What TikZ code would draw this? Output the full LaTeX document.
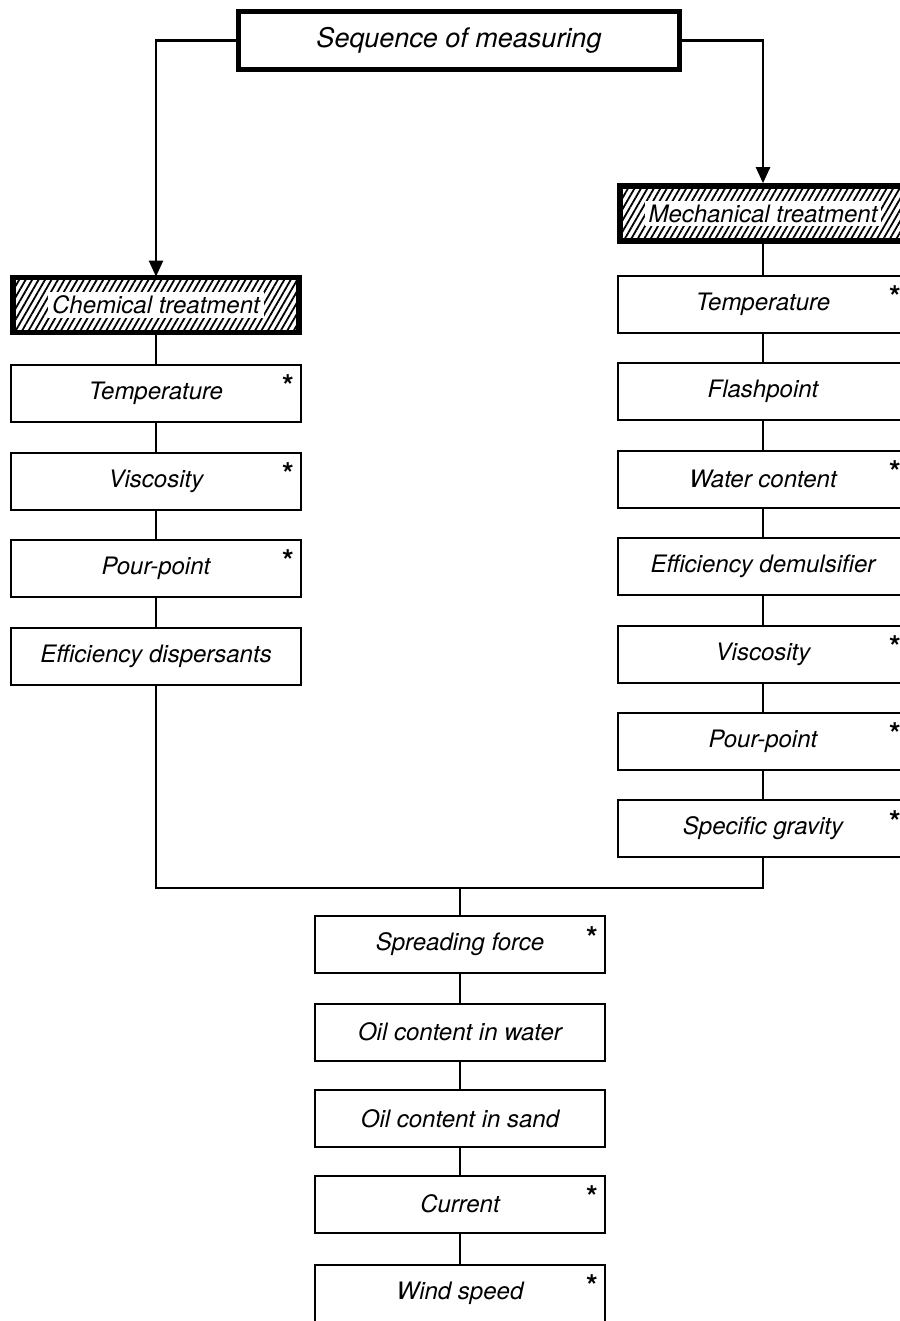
\documentclass[tikz,border=0pt]{standalone}
\usepackage{fontspec}
\setmainfont{TeX Gyre Heros}
\usetikzlibrary{arrows.meta,patterns.meta}

\tikzset{
  cell/.style={draw, line width=1pt, minimum width=145pt, minimum height=28.5pt,
    inner sep=0pt, font=\itshape\fontsize{12}{14}\selectfont},
  headbox/.style={draw, line width=2.6pt, minimum width=220.5pt, minimum height=29pt,
    inner sep=0pt, font=\itshape\fontsize{13.5}{16}\selectfont},
  treatment/.style={draw, line width=2.8pt, minimum width=143pt, minimum height=27.5pt,
    inner sep=0pt, pattern={Lines[angle=60,distance=2.8pt,line width=0.9pt]},
    font=\itshape\fontsize{12}{14}\selectfont},
  starred/.style={label={[anchor=base, inner sep=0pt, xshift=-7pt, yshift=-16.5pt,
    font=\bfseries\fontsize{15}{16}\selectfont]north east:*}},
  link/.style={line width=1.2pt},
  feed/.style={link, -{Triangle[length=8pt,width=7pt]}},
}

\begin{document}
\begin{tikzpicture}[x=0.5pt,y=-0.5pt]
  \useasboundingbox (0,0) rectangle (899,1321);
  \setlength{\fboxsep}{2pt}

  % Cabecera
  \node[headbox] (seq) at (459,40.5) {Sequence of measuring};

  % Tratamientos
  \node[treatment] (chem) at (156,305) {\colorbox{white}{Chemical treatment}};
  \node[treatment] (mech) at (763,213.5) {\colorbox{white}{Mechanical treatment}};

  % Columna izquierda
  \node[cell,starred] (ctemp) at (156,393) {Temperature};
  \node[cell,starred] (cvisc) at (156,481) {Viscosity};
  \node[cell,starred] (cpour) at (156,568) {Pour-point};
  \node[cell] (cdisp) at (156,656.5) {Efficiency dispersants};

  % Columna derecha
  \node[cell,starred] (mtemp) at (763,304) {Temperature};
  \node[cell] (mflash) at (763,391) {Flashpoint};
  \node[cell,starred] (mwater) at (763,479) {Water content};
  \node[cell] (mdemul) at (763,566.5) {Efficiency demulsifier};
  \node[cell,starred] (mvisc) at (763,654) {Viscosity};
  \node[cell,starred] (mpour) at (763,741) {Pour-point};
  \node[cell,starred] (mgrav) at (763,828.5) {Specific gravity};

  % Columna inferior
  \node[cell,starred] (spread) at (460,944.5) {Spreading force};
  \node[cell] (owater) at (460,1032) {Oil content in water};
  \node[cell] (osand) at (460,1118.5) {Oil content in sand};
  \node[cell,starred] (curr) at (460,1204) {Current};
  \node[cell,starred] (wind) at (460,1293) {Wind speed};

  % Conexiones
  \draw[feed] (seq.west) -| (chem.north);
  \draw[feed] (seq.east) -| (mech.north);

  \draw[link] (chem) -- (ctemp) -- (cvisc) -- (cpour) -- (cdisp);
  \draw[link] (mech) -- (mtemp) -- (mflash) -- (mwater) -- (mdemul)
    -- (mvisc) -- (mpour) -- (mgrav);

  \coordinate (merge) at (460,888);
  \draw[link] (cdisp.south) |- (merge) -| (mgrav.south);
  \draw[link] (merge) -- (spread) -- (owater) -- (osand) -- (curr) -- (wind);
\end{tikzpicture}
\end{document}
